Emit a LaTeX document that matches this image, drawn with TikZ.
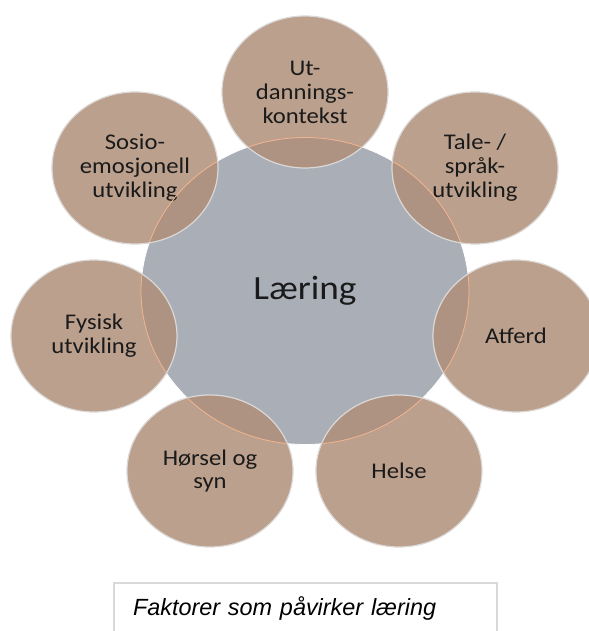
\documentclass[tikz,border=0pt]{standalone}
\usepackage{fontspec}
\setmainfont{Carlito}[FakeStretch=1.1]
\newfontfamily\capfont{Liberation Sans}
\usepackage{tikz}
\usetikzlibrary{positioning}
\usetikzlibrary{shapes.geometric}
\definecolor{hubgray}{HTML}{A9AEB7}
\definecolor{satbrown}{HTML}{AF8F79}
\definecolor{satrim}{HTML}{DCD8D6}
\definecolor{peach}{HTML}{F2B48E}
\definecolor{boxgray}{HTML}{D9D9D9}
\definecolor{ink}{HTML}{1A1A1A}
\tikzset{
  hub/.style={ellipse, fill=hubgray, draw=white, line width=0.8bp,
    minimum width=328bp, minimum height=307bp, inner sep=0pt,
    text=ink, font=\fontsize{34}{40}\selectfont},
  factor/.style={ellipse, fill=satbrown, fill opacity=0.85, text opacity=1,
    draw=satrim, line width=1.2bp, minimum width=166bp, minimum height=152bp,
    inner sep=0pt, align=center, text=ink, font=\fontsize{22.5}{24}\selectfont},
  capbox/.style={draw=boxgray, line width=2bp, minimum width=383bp,
    minimum height=50bp, text width=345bp, align=left,
    font=\capfont\itshape\fontsize{23.5}{27}\selectfont}
}

\begin{document}
\begin{tikzpicture}[x=1bp, y=1bp,
      node distance=200bp,
      on grid]

    \useasboundingbox (0,0) rectangle (589,631);

    \node[hub]
      (Laering) at (305,340) {Læring};

    \node[factor]
      (Utdanning) [above=199bp of Laering] {Ut-\\dannings-\\kontekst};
    \node[factor]
      (Tale) [above right=123bp and 170bp of Laering] {Tale- /\\språk-\\utvikling};
    \node[factor]
      (Atferd) [below right=45bp and 211bp of Laering] {Atferd};
    \node[factor]
      (Helse) [below right=180bp and 94bp of Laering] {Helse};
    \node[factor]
      (Horsel) [below left=180bp and 95bp of Laering] {Hørsel og\\syn};
    \node[factor]
      (Fysisk) [below left=45bp and 211bp of Laering] {Fysisk\\utvikling};
    \node[factor]
      (Sosio) [above left=123bp and 170bp of Laering] {Sosio-\\emosjonell\\utvikling};

    % rim of the hub, seen through each factor
    \foreach \f in {Utdanning,Tale,Atferd,Helse,Horsel,Fysisk,Sosio} {
      \begin{scope}
        \clip (\f.center) ellipse [x radius=82, y radius=75];
        \draw[peach, line width=0.8bp]
          (Laering.center) ellipse [x radius=164, y radius=153.5];
      \end{scope}
    }

    \node[capbox]
      (Caption) at (305.5,23) {Faktorer som påvirker læring};

  \end{tikzpicture}
\end{document}
